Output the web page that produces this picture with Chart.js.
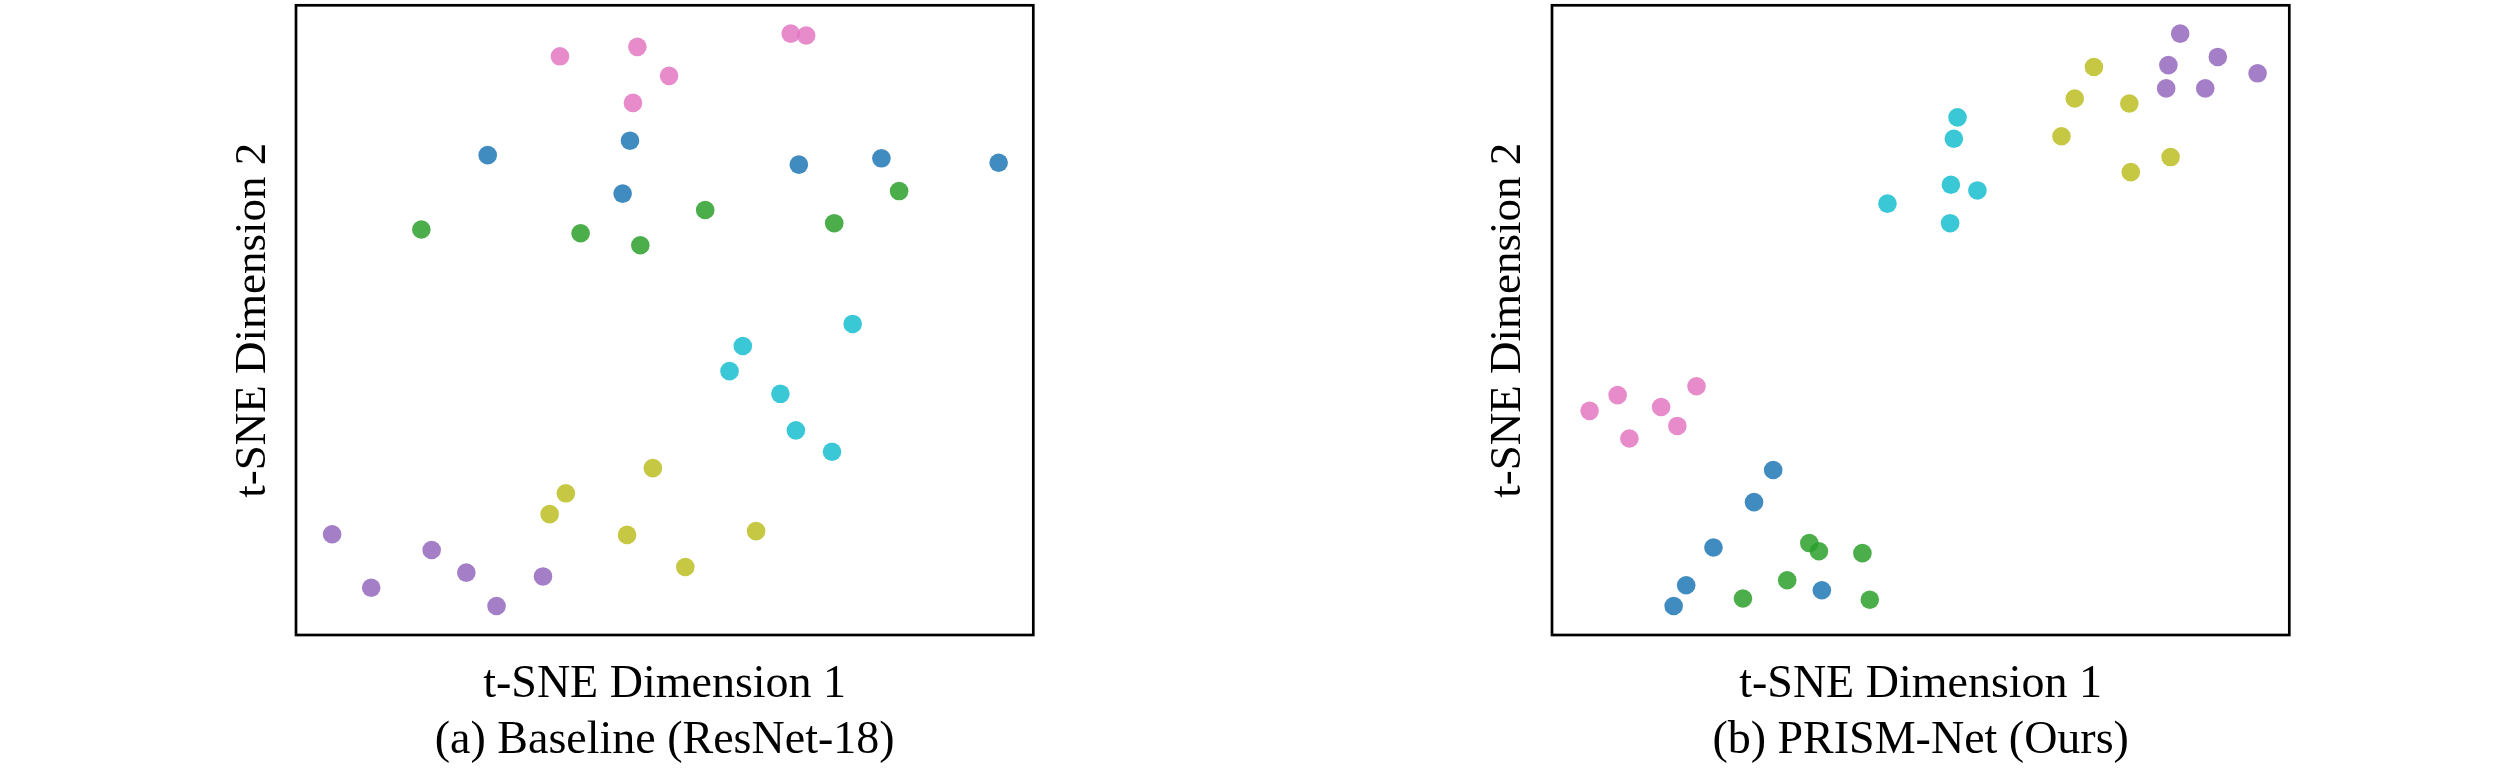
<!DOCTYPE html>
<html>
<head>
<meta charset="utf-8">
<title>t-SNE comparison</title>
<script src="https://cdn.jsdelivr.net/npm/chart.js@4.4.1/dist/chart.umd.min.js"></script>
<style>
  html, body { margin: 0; padding: 0; background: #fff; }
  #wrap { width: 2520px; height: 780px; display: flex; }
  .panel { width: 1260px; height: 780px; position: relative; }
</style>
</head>
<body>
<div id="wrap">
  <div class="panel"><canvas id="baseline-chart" width="1260" height="780"></canvas></div>
  <div class="panel"><canvas id="prism-chart" width="1260" height="780"></canvas></div>
</div>
<script>
// classes in plotting order (tab10 colours sampled for 6 classes)
const classNames = ['Class 0', 'Class 1', 'Class 2', 'Class 3', 'Class 4', 'Class 5'];
const classColors = [
  'rgba(31, 119, 180, 0.85)',
  'rgba(44, 160, 44, 0.85)',
  'rgba(148, 103, 189, 0.85)',
  'rgba(227, 119, 194, 0.85)',
  'rgba(188, 189, 34, 0.85)',
  'rgba(23, 190, 207, 0.85)'
];

// (a) Baseline (ResNet-18) - embedding coordinates
const baseX0 = [26.0, 45.3, 44.3, 68.2, 79.4, 95.3];
const baseY0 = [76.2, 78.5, 70.1, 74.7, 75.7, 75.0];
const baseX1 = [17.0, 38.6, 46.7, 55.5, 73.0, 81.8];
const baseY1 = [64.4, 63.8, 61.9, 67.5, 65.4, 70.5];
const baseX2 = [4.9, 10.2, 18.4, 23.1, 27.2, 33.5];
const baseY2 = [16.0, 7.5, 13.5, 9.9, 4.6, 9.3];
const baseX3 = [35.8, 46.3, 50.6, 45.7, 67.1, 69.2];
const baseY3 = [91.9, 93.4, 88.8, 84.5, 95.5, 95.2];
const baseX4 = [48.4, 36.6, 34.4, 44.9, 62.4, 52.8];
const baseY4 = [26.5, 22.5, 19.2, 15.9, 16.5, 10.8];
const baseX5 = [75.5, 60.6, 58.8, 65.7, 67.8, 72.7];
const baseY5 = [49.4, 45.9, 41.9, 38.3, 32.5, 29.1];

// (b) PRISM-Net (Ours)
const prismX0 = [30.0, 27.4, 21.9, 18.2, 16.5, 36.6];
const prismY0 = [26.2, 21.1, 13.9, 7.9, 4.6, 7.1];
const prismX1 = [34.9, 36.2, 42.1, 31.9, 25.9, 43.1];
const prismY1 = [14.6, 13.3, 13.0, 8.7, 5.8, 5.6];
const prismX2 = [85.2, 90.3, 83.6, 95.7, 83.3, 88.6];
const prismY2 = [95.5, 91.8, 90.5, 89.2, 86.8, 86.8];
const prismX3 = [19.6, 8.9, 5.1, 14.8, 17.0, 10.5];
const prismY3 = [39.5, 38.1, 35.6, 36.2, 33.2, 31.2];
const prismX4 = [73.5, 70.9, 78.3, 69.1, 83.9, 78.5];
const prismY4 = [90.2, 85.2, 84.4, 79.2, 75.9, 73.5];
const prismX5 = [55.0, 54.5, 54.1, 57.7, 45.5, 54.0];
const prismY5 = [82.2, 78.8, 71.5, 70.6, 68.5, 65.4];

const axisRange = [0, 100];
const xTitle = 't-SNE Dimension 1';
const yTitle = 't-SNE Dimension 2';

const FONT = "'Liberation Serif', 'Times New Roman', serif";

// frame around the plotting area
const frameBox = {
  id: 'frameBox',
  afterDraw(chart) {
    const { ctx, chartArea: a } = chart;
    ctx.save();
    ctx.strokeStyle = '#000';
    ctx.lineWidth = 2.7;
    ctx.strokeRect(a.left, a.top, a.right - a.left, a.bottom - a.top);
    ctx.restore();
  }
};

function toPoints(xs, ys) {
  return xs.map((x, i) => ({ x: x, y: ys[i] }));
}

function makeDatasets(xsList, ysList) {
  return classNames.map((name, i) => ({
    label: name,
    data: toPoints(xsList[i], ysList[i]),
    backgroundColor: classColors[i],
    borderWidth: 0,
    pointRadius: 9.3,
    pointHoverRadius: 9.3
  }));
}

// the sub-figure caption sits under the x axis title, centred on the plot
function createChart(canvasId, datasets, caption, yAxisWidth, yTitlePad, rightPad) {
  const ctx = document.getElementById(canvasId).getContext('2d');
  return new Chart(ctx, {
    type: 'scatter',
    data: { datasets: datasets },
    plugins: [frameBox],
    options: {
      responsive: false,
      animation: false,
      devicePixelRatio: 1,
      layout: { autoPadding: false, padding: { left: 0, right: rightPad, top: 5.3, bottom: 0 } },
      plugins: {
        legend: { display: false },
        tooltip: { enabled: false }
      },
      scales: {
        x: {
          type: 'linear',
          min: axisRange[0],
          max: axisRange[1],
          grid: { display: false },
          border: { display: false },
          ticks: { display: false },
          title: {
            display: true,
            text: [xTitle, caption],
            color: '#000',
            font: { family: FONT, size: 46, lineHeight: 56 / 46 },
            padding: { top: 0, bottom: 11 }
          },
          afterFit(scale) { scale.height = 145; }
        },
        y: {
          type: 'linear',
          min: axisRange[0],
          max: axisRange[1],
          grid: { display: false },
          border: { display: false },
          ticks: { display: false },
          title: {
            display: true,
            text: yTitle,
            color: '#000',
            font: { family: FONT, size: 45, lineHeight: 1 },
            padding: { top: yTitlePad, bottom: 0 }
          },
          afterFit(scale) { scale.width = yAxisWidth; }
        }
      }
    }
  });
}

createChart('baseline-chart',
  makeDatasets([baseX0, baseX1, baseX2, baseX3, baseX4, baseX5],
               [baseY0, baseY1, baseY2, baseY3, baseY4, baseY5]),
  '(a) Baseline (ResNet-18)', 296, 231, 226.7);

createChart('prism-chart',
  makeDatasets([prismX0, prismX1, prismX2, prismX3, prismX4, prismX5],
               [prismY0, prismY1, prismY2, prismY3, prismY4, prismY5]),
  '(b) PRISM-Net (Ours)', 292, 226, 230.7);
</script>
</body>
</html>
